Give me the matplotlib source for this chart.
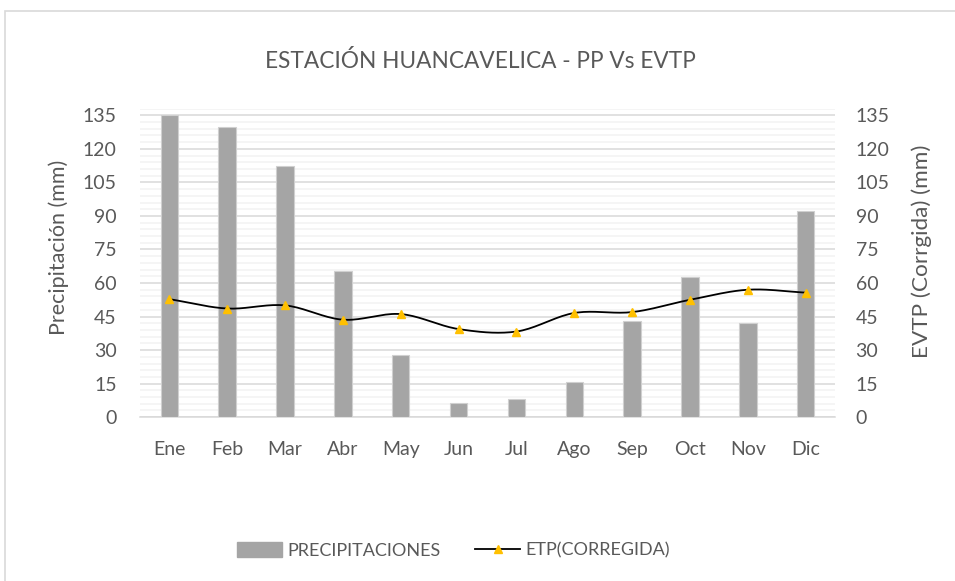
import numpy as np
import matplotlib
matplotlib.use("Agg")
import matplotlib.pyplot as plt
from matplotlib.patches import Rectangle
from matplotlib.lines import Line2D

plt.rcParams['font.family'] = ['Lato', 'DejaVu Sans']

# Datos
meses = ["Ene", "Feb", "Mar", "Abr", "May", "Jun", "Jul", "Ago", "Sep", "Oct", "Nov", "Dic"]
precipitacion = [135.0, 129.6, 112.4, 65.4, 27.8, 6.4, 8.2, 15.7, 43.1, 62.7, 42.0, 92.1]
etp_corregida = [52.8, 48.6, 50.0, 43.6, 46.1, 39.4, 38.3, 46.6, 47.0, 52.5, 57.0, 55.7]
ticks_y = list(range(0, 136, 15))

gris_txt = "#595959"


def catmull_rom(x, y, n=20):
    # curva suavizada tipo Excel que pasa por los puntos
    x = np.asarray(x, float)
    y = np.asarray(y, float)
    px = np.concatenate([[2 * x[0] - x[1]], x, [2 * x[-1] - x[-2]]])
    py = np.concatenate([[2 * y[0] - y[1]], y, [2 * y[-1] - y[-2]]])
    xs, ys = [], []
    t = np.linspace(0, 1, n)
    for i in range(1, len(px) - 2):
        for p, out in ((px, xs), (py, ys)):
            p0, p1, p2, p3 = p[i - 1], p[i], p[i + 1], p[i + 2]
            out.extend(0.5 * ((2 * p1) + (-p0 + p2) * t
                              + (2 * p0 - 5 * p1 + 4 * p2 - p3) * t ** 2
                              + (-p0 + 3 * p1 - 3 * p2 + p3) * t ** 3))
    return np.array(xs), np.array(ys)


fig = plt.figure(figsize=(9.55, 5.81), dpi=100)
fig.patches.append(Rectangle((5 / 955, -0.1), 1.2, 1 - 11 / 581 + 0.1,
                             transform=fig.transFigure, fill=False,
                             edgecolor="#D9D9D9", linewidth=1.2))

ax = fig.add_axes([0.147, 0.282, 0.727, 0.531])
x = np.arange(len(meses))

ax.bar(x, precipitacion, width=0.30, color="#A5A5A5", edgecolor="#D0D0D0",
       linewidth=0.8, zorder=3, label="PRECIPITACIONES")

ax.set_xlim(-0.5, len(meses) - 0.5)
ax.set_ylim(0, 138)
ax.set_yticks(ticks_y)
ax.set_yticks(np.arange(0, 139, 3), minor=True)
ax.grid(which="major", axis="y", color="#D9D9D9", linewidth=1.1, zorder=0)
ax.grid(which="minor", axis="y", color="#F2F2F2", linewidth=1.1, zorder=0)
ax.set_xticks(x)
ax.set_xticklabels(meses)
for s in ["top", "left", "right"]:
    ax.spines[s].set_visible(False)
ax.spines["bottom"].set_color("#D9D9D9")
ax.spines["bottom"].set_linewidth(1.1)
ax.tick_params(which="both", length=0, labelsize=14, colors=gris_txt, pad=17)
ax.tick_params(axis="x", pad=17)
ax.set_ylabel("Precipitación (mm)", fontsize=15.5, color=gris_txt, labelpad=10)
ax.yaxis.label.set_y(0.55)

ax2 = ax.twinx()
ax2.set_ylim(0, 138)
ax2.set_yticks(ticks_y)
for s in ["top", "left", "right", "bottom"]:
    ax2.spines[s].set_visible(False)
ax2.tick_params(length=0, labelsize=14, colors=gris_txt, pad=15)
ax2.set_ylabel("EVTP (Corrgida) (mm)", fontsize=16.2, color=gris_txt, labelpad=16)
ax2.yaxis.label.set_y(0.537)

xs, ys = catmull_rom(x, etp_corregida)
ax2.plot(xs, ys, color="black", linewidth=1.3, zorder=4)
ax2.plot(x, etp_corregida, linestyle="none", marker="^", markersize=6,
         color="#FFC000", zorder=5)

fig.text(0.503, 0.895, "ESTACIÓN HUANCAVELICA - PP Vs EVTP", ha="center",
         va="center", fontsize=16.3, color=gris_txt)

handles = [Rectangle((0, 0), 1, 1, color="#A5A5A5"),
           Line2D([], [], color="black", linewidth=1.3, marker="^",
                  markersize=6, markerfacecolor="#FFC000",
                  markeredgecolor="#FFC000")]
fig.legend(handles, ["PRECIPITACIONES", "ETP(CORREGIDA)"], loc="center",
           bbox_to_anchor=(0.475, 0.053), ncol=2, frameon=False,
           fontsize=13, labelcolor=gris_txt, handlelength=2.5,
           handleheight=0.9, columnspacing=1.9, handletextpad=0.3)

fig.savefig("out.png", dpi=100)
